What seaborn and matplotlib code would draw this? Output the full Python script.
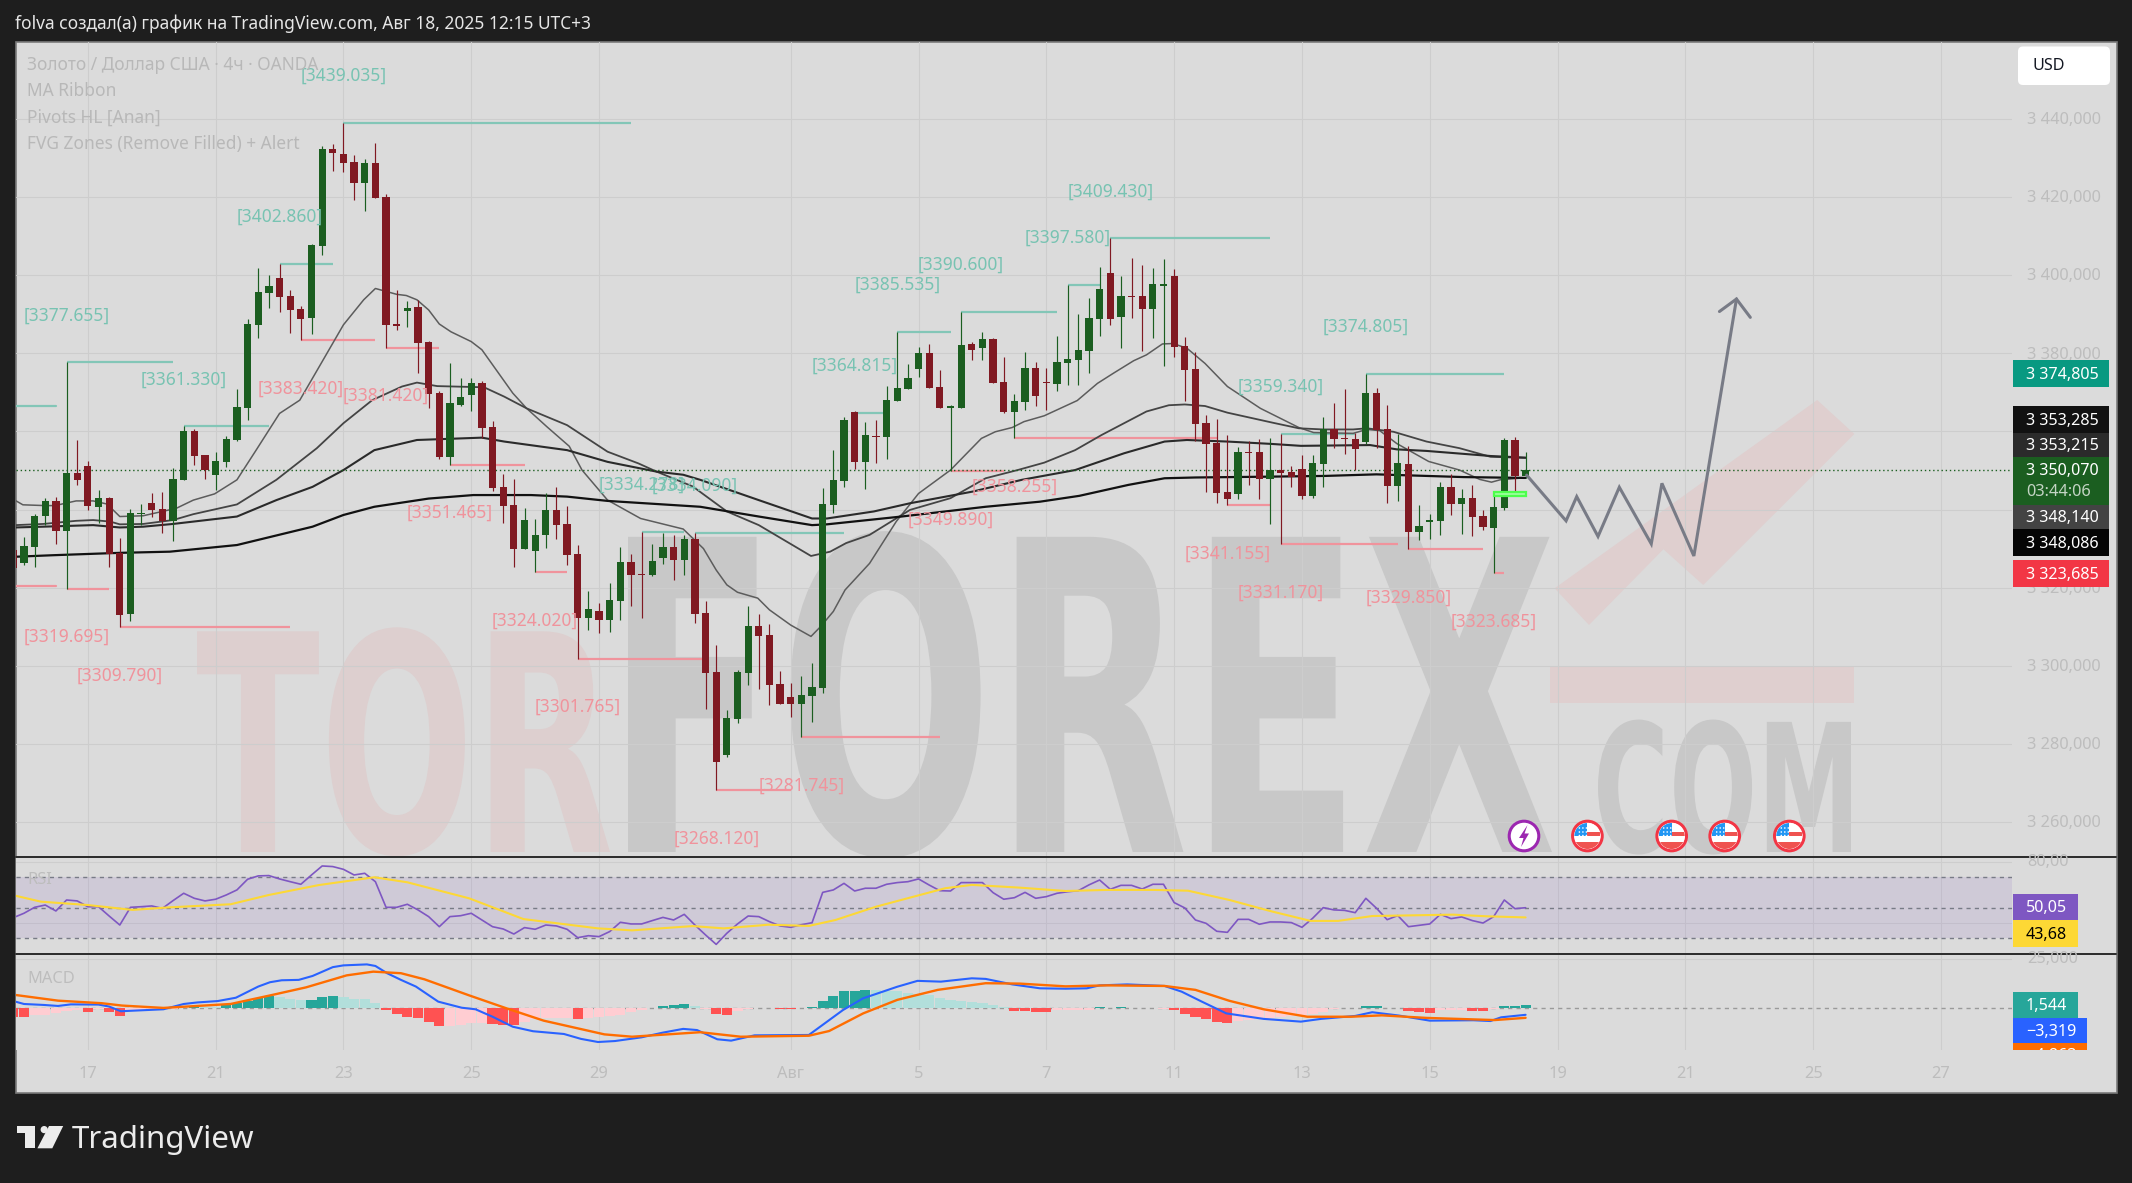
import matplotlib
matplotlib.use("Agg")
import matplotlib.pyplot as plt
import seaborn as sns
import numpy as np
from matplotlib.patches import Rectangle, Circle, Polygon, FancyBboxPatch
from matplotlib.patheffects import AbstractPathEffect
from matplotlib.textpath import TextPath
from matplotlib.font_manager import FontProperties
from matplotlib.transforms import Affine2D

# ---------- candles: one value per 4h bar ----------
opens = [3329.6,3326.2,3330.4,3338.3,3342.2,3334.6,3349.4,3351.1,3340.6,3343.0,
         3328.9,3313.2,3338.8,3341.7,3340.1,3337.1,3347.6,3360.1,3354.0,3348.9,
         3352.2,3357.8,3366.0,3387.3,3395.5,3399.3,3394.7,3391.4,3389.0,3407.5,
         3432.3,3431.0,3429.0,3423.6,3428.7,3420.0,3387.4,3390.8,3391.9,3382.9,
         3369.8,3353.5,3366.8,3369.3,3372.4,3361.1,3345.8,3341.2,3329.9,3329.4,
         3333.5,3339.9,3336.3,3328.6,3312.2,3314.0,3311.7,3316.6,3326.5,3323.5,
         3323.2,3327.6,3330.4,3327.1,3332.5,3313.5,3298.4,3277.1,3286.4,3298.1,
         3310.2,3307.9,3295.3,3292.0,3290.2,3292.3,3294.3,3341.2,3347.3,3365.0,
         3352.2,3358.9,3358.6,3367.8,3370.9,3376.0,3380.1,3371.4,3366.1,3366.0,
         3382.4,3381.4,3383.7,3372.7,3365.0,3367.5,3376.2,3372.7,3372.1,3377.5,
         3378.3,3380.6,3388.8,3400.6,3389.3,3394.7,3394.7,3391.4,3397.2,3399.8,
         3381.9,3376.0,3362.2,3357.0,3344.5,3344.0,3354.7,3354.7,3347.8,3350.1,
         3349.6,3350.4,3343.5,3351.7,3360.6,3358.3,3358.1,3357.3,3369.8,3360.6,
         3346.0,3351.6,3334.2,3336.9,3337.0,3345.8,3341.4,3343.0,3338.3,3335.3,
         3340.4,3357.8,3348.6]
highs = [3332.0,3333.0,3338.9,3342.9,3343.1,3377.9,3357.8,3352.4,3345.0,3343.3,
         3332.7,3340.1,3341.4,3344.2,3344.5,3350.5,3361.4,3360.6,3354.0,3354.7,
         3358.8,3370.9,3388.7,3401.9,3400.1,3402.9,3396.2,3392.1,3408.0,3433.1,
         3433.6,3439.0,3430.8,3429.8,3433.9,3420.8,3396.2,3393.4,3393.7,3383.2,
         3370.4,3377.5,3373.7,3373.7,3372.9,3362.7,3349.1,3347.8,3340.4,3337.6,
         3344.2,3345.8,3340.9,3330.9,3319.1,3316.0,3321.2,3330.4,3328.6,3334.3,
         3331.2,3334.0,3333.5,3333.5,3334.1,3316.6,3305.3,3288.7,3298.9,3315.3,
         3313.2,3310.7,3298.6,3295.5,3297.4,3300.7,3345.5,3355.2,3363.7,3365.2,
         3362.4,3362.9,3371.6,3385.5,3377.3,3381.6,3382.4,3375.7,3366.7,3390.6,
         3382.9,3385.5,3383.9,3379.1,3369.6,3380.3,3377.8,3376.2,3384.4,3397.6,
         3390.1,3394.2,3402.1,3409.4,3399.8,3404.4,3402.6,3401.9,3404.2,3401.6,
         3384.2,3380.3,3364.2,3363.2,3359.1,3356.0,3357.6,3358.1,3358.3,3359.3,
         3351.1,3354.0,3354.0,3363.7,3367.3,3370.9,3359.6,3374.8,3371.1,3366.8,
         3359.3,3356.3,3341.2,3338.9,3347.0,3349.1,3345.3,3346.3,3339.9,3343.5,
         3358.3,3358.6,3354.8]
lows = [3324.0,3325.8,3325.3,3336.0,3331.2,3319.7,3346.3,3339.9,3336.5,3325.3,
        3309.8,3311.5,3336.0,3338.1,3334.0,3331.9,3347.6,3351.4,3347.8,3345.0,
        3350.9,3357.5,3362.9,3383.8,3391.6,3390.6,3385.2,3383.4,3385.0,3405.2,
        3426.7,3426.4,3419.3,3416.4,3419.8,3381.4,3386.0,3386.7,3375.0,3366.0,
        3352.9,3351.5,3366.5,3365.2,3358.3,3344.7,3336.5,3325.3,3329.9,3324.0,
        3330.1,3332.4,3325.8,3301.8,3309.1,3308.4,3308.6,3311.7,3315.3,3312.2,
        3323.0,3326.0,3322.0,3323.2,3310.9,3288.9,3268.1,3276.6,3285.3,3295.1,
        3294.0,3290.0,3290.2,3286.9,3281.7,3285.6,3293.0,3339.1,3345.8,3350.4,
        3345.3,3351.9,3352.9,3367.8,3370.9,3373.9,3371.1,3366.0,3349.9,3366.0,
        3378.3,3378.3,3372.4,3364.7,3358.3,3365.5,3366.5,3365.5,3370.4,3371.9,
        3371.9,3375.0,3384.4,3387.3,3381.4,3389.0,3380.6,3383.9,3376.8,3379.1,
        3367.8,3357.6,3344.5,3341.7,3341.2,3342.7,3346.3,3342.7,3336.3,3331.2,
        3345.8,3342.7,3343.0,3345.8,3355.8,3354.2,3350.1,3356.8,3355.8,3341.7,
        3342.2,3329.9,3332.2,3332.4,3333.5,3338.6,3333.7,3333.2,3334.8,3323.7,
        3339.9,3344.7,3348.1]
closes = [3325.1,3330.7,3338.3,3342.2,3334.6,3349.4,3347.6,3340.9,3343.0,3328.6,
          3313.0,3339.1,3339.1,3339.9,3337.1,3347.8,3360.1,3353.7,3350.1,3352.4,
          3358.1,3366.3,3387.5,3395.7,3397.2,3394.4,3391.1,3388.8,3407.7,3432.3,
          3431.3,3428.7,3423.6,3428.7,3419.8,3387.3,3387.1,3391.6,3382.6,3369.6,
          3353.5,3367.3,3368.8,3372.4,3360.9,3345.5,3340.9,3329.9,3337.3,3333.5,
          3339.9,3336.0,3328.3,3312.2,3314.5,3311.7,3316.8,3326.5,3323.2,3323.2,
          3326.8,3330.4,3327.1,3332.4,3313.2,3298.1,3275.3,3286.6,3298.4,3310.2,
          3307.6,3295.1,3290.2,3290.2,3292.6,3294.6,3341.4,3347.6,3362.9,3352.2,
          3359.1,3358.6,3368.0,3371.1,3373.7,3380.1,3371.1,3366.0,3366.4,3382.1,
          3380.9,3383.7,3372.4,3365.0,3367.8,3376.2,3369.1,3372.4,3377.8,3378.5,
          3380.9,3389.0,3396.5,3388.8,3394.7,3394.4,3391.4,3397.8,3397.8,3381.6,
          3375.7,3361.9,3356.8,3344.2,3342.7,3354.7,3354.4,3347.8,3350.1,3349.4,
          3348.3,3343.5,3351.9,3360.6,3358.1,3358.0,3355.5,3369.8,3360.4,3346.0,
          3351.9,3334.2,3335.8,3337.3,3345.8,3341.4,3343.0,3338.1,3335.5,3340.6,
          3357.8,3348.6,3350.07]

# ---------- MA ribbon: (bar, price) read at the bends ----------
ma_a_bar = [0.2,0.9,3,3.9,5.9,7.5,8.8,10,12.2,15.3,16.9,18.9,21,22.8,25,26.9,28.9,31,32.9,34,36,36.9,37.9,39,40,41.1,43,44,46.9,48.2,50.1,52.2,53.4,55.8,58.9,62.9,64.8,66,67,68,69.9,71,73,74.9,75.8,77,78.1,80.4,82.9,85,88,90.9,92.2,93.8,94.9,96.8,99.9,101.8,103.3,105.2,106.4,107.9,108.9,110.2,111.9,114,117.1,120.7,122.1,125.8,127.1,128.3,129.9,132.9,135.8,137.7,138.8,139.6,142]
ma_a_val = [3342.3,3341.2,3341,3341,3342.2,3342.2,3341.4,3338.2,3338.4,3340.3,3342.4,3344,3347.6,3355.2,3364.6,3368,3377.4,3387.3,3393.7,3396.6,3395.1,3394.8,3393.7,3391.1,3387.5,3385.5,3383,3380.9,3369.8,3365.9,3361.2,3356.2,3350.1,3342.4,3337.7,3335,3330,3324.5,3320.7,3318.8,3317.3,3314.3,3310.4,3307.5,3310,3313.9,3319.4,3326.2,3336.9,3344.1,3350.1,3358.2,3359.9,3361,3362.5,3364,3367.9,3372.3,3374.9,3378.1,3379.6,3382.4,3382.5,3381.3,3377.4,3371.5,3365.9,3361,3359.7,3359.5,3360.5,3360.2,3356.9,3352.3,3350.1,3347.7,3347,3347.6,3348.14]
ma_b_bar = [0.2,2.8,5.9,7.5,9.1,10,12.2,15,16.9,21,24.7,28.5,31,33.7,36.5,37.9,39.8,44.2,46.1,48.2,52,55.8,58.7,60.4,63.8,67,70,74.9,76.7,78.2,80.4,84.2,88,91.3,94.3,96.8,99.7,102.2,106.4,108.5,110,111.9,114,118.3,120.7,123,125.8,127.1,129.6,132.7,135.8,138.7,142]
ma_b_val = [3336,3336.3,3337.1,3337.3,3336.9,3336.2,3336.3,3337.3,3338.8,3341.3,3347.6,3355.7,3362.1,3368,3371.5,3372.5,3371.6,3371.3,3368.9,3365.9,3361.6,3354.8,3351.8,3349.7,3345.9,3339.5,3336,3328.1,3329.2,3331.4,3333.5,3339.9,3342.9,3348,3350.1,3352,3355.2,3359.1,3365.1,3366.7,3366.9,3366.5,3364.8,3362.2,3360.8,3360.5,3360.5,3360.8,3359.9,3357.4,3355.7,3353.5,3353.215]
ma_c_bar = [0.2,2.8,7.5,10,12.2,15,21,24.7,28.1,31,33.9,37.9,44,46.1,52,55.8,60.4,62.9,64.5,70,75,76.4,80.8,84.2,90.1,94.7,99.7,104.3,108.1,110.2,114,118.1,120.9,127.4,129.9,132.7,138.7,142]
ma_c_val = [3335.4,3335.6,3336,3335.4,3335.6,3336.3,3338.2,3342.4,3345.8,3350.1,3355.2,3357.8,3358.4,3357.4,3355.2,3352.2,3349.7,3348.9,3347.6,3342.4,3337.7,3337.7,3339.5,3341.6,3344.6,3347.6,3350.1,3354.4,3357.4,3357.8,3357.4,3356.8,3356.3,3356.5,3355.4,3355,3353.7,3353.285]
ma_d_bar = [0.2,3.8,10,14.7,21,28.1,31,33.9,39,43.2,48.6,52,55.8,64.5,70,75,76.4,83.4,91.3,96.4,100.1,104.7,108.1,111,117.6,123.2,128,131.5,136.2,142]
ma_d_val = [3327.9,3328.3,3328.9,3329.2,3330.9,3335.6,3338.6,3340.7,3342.8,3343.7,3343.7,3343.3,3342.2,3340.7,3338.2,3336,3336.2,3338.2,3340.7,3342,3343.5,3346.3,3348,3348.2,3348.4,3348.6,3349,3348.7,3348.3,3348.086]

# ---------- pivots: label text value, first bar, last bar of the level ----------
pivot_high_val = [3439.035,3402.860,3377.655,3361.330,3409.430,3397.580,3390.600,3385.535,3364.815,3374.805,3359.340,3334.278,3334.090]
pivot_high_bar = [31,25,5,16,103,99,89,83,79,127,119,59,64]
pivot_high_end = [58,30,15,24,118,102,98,88,82,140,126,63,78]
pivot_low_val = [3383.420,3381.420,3351.465,3319.695,3309.790,3324.020,3301.765,3281.745,3268.120,3349.890,3358.255,3341.155,3331.170,3329.850,3323.685]
pivot_low_bar = [27,35,41,5,10,49,53,74,66,88,94,114,119,131,139]
pivot_low_end = [34,40,48,9,26,52,65,87,73,93,113,118,130,138,140]

# ---------- RSI ----------
rsi_vals = [43.5,46.4,50.3,51.8,47.9,55.1,54.5,50.7,50.7,44.6,38.7,50.3,50.7,51.2,49.6,54.7,59.5,56.2,54.5,55.6,
            58.4,61.7,68.7,70.9,71.1,68.9,67.1,65.4,71.5,77.4,77.0,75.2,71.5,72.6,67.1,50.3,50.3,52.3,48.6,44.2,
            37.6,44.2,44.8,46.4,42.0,37.6,36.1,32.8,37.0,35.9,38.7,38.1,35.9,30.4,31.7,31.1,34.4,40.5,39.4,39.4,
            41.6,43.7,42.0,45.7,38.7,32.2,26.0,33.3,39.4,44.6,44.2,40.9,38.1,37.2,38.9,40.2,60.1,61.7,66.0,61.0,
            62.8,62.8,65.4,66.5,67.1,68.9,64.9,61.2,61.0,66.5,66.5,66.5,59.9,55.6,56.6,60.1,56.2,57.3,59.5,60.5,
            61.2,65.0,68.2,62.1,64.7,64.7,62.3,65.4,65.4,53.4,49.9,42.0,39.8,34.6,33.9,42.4,42.4,39.2,40.7,40.7,
            40.3,37.2,43.1,50.1,48.6,48.3,46.8,56.2,49.7,42.2,44.9,37.6,38.5,39.4,45.7,42.9,44.0,41.6,40.0,44.2,
            55.1,49.4,50.05]
rsi_ma_bar = [0.2,2.6,7,11.2,14.7,20.4,24,28.7,33.9,37,42.8,47.9,54.9,58.1,63.8,66.7,70.9,74.7,77.2,81,87.5,90,94.5,98.8,102.7,107.1,110.3,114.2,118,121.8,124.4,127.6,135.2,138.4,142]
rsi_ma_val = [57.9,54,51.8,48.6,50.3,52.3,58.4,64.9,70,66.7,56.2,42.6,36.5,35.2,38,36.5,38.9,38.1,42,50.7,62.8,65,63.2,61,61.7,61.7,61.2,55.1,47.9,41.4,41.4,44.6,45.5,44.4,43.68]

# ---------- MACD ----------
macd_bar = [0.2,1,2.9,4.2,5.4,8,9,10.1,14.1,16,17.3,19.2,20.9,23,24.1,25.2,26.8,28.1,30,31,33.2,34,35.1,36.4,37.8,39.9,42.1,43.4,45,46.9,48.8,51.7,53.3,54.9,56.5,59,61,62.9,64.2,66.1,67.4,69.6,74.7,77.9,79.8,83,84.9,87.1,90,91.3,93.8,96.4,98.8,100.8,102,104.6,108.1,109.7,111.6,113.9,117.4,120.9,122.8,126,127.6,130.1,133,137.1,138.7,139.7,142]
macd_val = [3.4,2.2,1.7,1.2,2,1.9,0.9,-1.5,-0.5,2.2,3,3.7,5.4,11.1,13.3,14.3,14.5,16.5,21,21.9,22.4,21.6,17.9,14.5,11.1,3.4,0.3,-0.5,-4.3,-9.4,-11.7,-13.1,-15.6,-17.2,-16.7,-14.8,-12.4,-10.5,-11.1,-15.8,-16.5,-13.8,-13.6,-0.9,5.1,11,14,13.6,15.3,15,12.2,10.2,10,10.2,11.7,12.2,11.4,8.5,3.4,-2.6,-5.4,-6.8,-5.4,-3.9,-2,-3.7,-6.3,-6.1,-6.5,-4.6,-3.319]
signal_bar = [0.2,4.2,8.3,10.2,14.1,20.4,24.3,27.5,31.3,33.8,36.4,38.6,42.8,46.3,49.8,55.5,58.1,64.5,68.3,74.7,76.6,79.8,83,86.8,91.3,94.5,98.8,102.7,108.1,111,114.2,117.4,121.5,125.6,128.5,132.7,139.1,142]
signal_val = [6.8,3.9,2.6,1.4,0.2,2.2,6.8,10.7,16.8,18.7,17.9,14.8,6.6,0,-6.3,-13.3,-14.5,-12.2,-14.5,-14,-11.6,-2.6,4.3,9.4,12.8,12.6,11.2,11.7,11.4,9.4,3.8,-0.5,-4.3,-4.3,-3.6,-4.9,-6,-4.863]
hist_vals = [-4.2,-4.2,-3.5,-3.2,-2.5,-1.6,-1.0,-1.7,-0.6,-2.0,
             -3.7,-1.6,-1.4,-1.0,-0.6,-0.2,0.3,1.2,0.6,0.6,
             1.8,2.5,3.8,5.3,6.1,5.6,4.8,4.3,4.3,5.8,
             6.5,5.7,5.0,4.6,2.9,-0.8,-3.1,-4.3,-4.9,-6.8,
             -8.8,-8.8,-8.3,-7.7,-7.5,-7.9,-8.3,-8.6,-6.9,-5.6,
             -5.0,-5.0,-5.0,-5.4,-4.7,-4.5,-4.0,-3.2,-2.1,-1.0,
             0.3,1.2,1.9,2.3,1.2,-0.2,-2.9,-3.2,-1.2,-0.6,
             0.3,0.2,-0.3,-0.3,0.2,0.9,3.9,6.2,8.9,8.8,
             9.4,9.2,8.8,8.8,8.0,7.5,6.8,5.4,4.0,3.9,
             3.2,2.7,1.5,0.5,-1.2,-1.4,-1.7,-1.7,-0.9,-0.9,
             -0.7,-0.7,0.5,0.2,0.5,0.2,0.1,0.2,-0.2,-1.0,
             -2.7,-4.3,-5.4,-6.8,-7.3,-6.6,-6.0,-5.4,-5.0,-4.3,
             -3.7,-3.4,-2.7,-1.7,-0.3,0.2,0.2,1.2,1.2,0.4,
             0.2,-1.4,-1.7,-2.3,-1.0,-0.9,-0.9,-1.2,-1.2,-0.5,
             1.2,1.2,1.544]
hist_kind = ("RRPPPPPRPR" "RPPPPPTTtt" "TTTTTtttTT" "TttttRRRRR" "RPPPPRRRPP"
             "PPPRPPPPPP" "TTTTtPRRPP" "TtRRTTTTTT" "Tttttttttt" "ttttRRRRPP"
             "PPTtTttTPR" "RRRRRPPPPP" "PPPPPTTTTt" "tRRRPPPRRP" "TTT")

# ---------- drawing on the chart ----------
draw_bar = [142.1,145.8,146.8,148.8,150.8,153.8,154.8,157.8,161.8]
draw_val = [3348.8,3337.1,3343.3,3333.1,3345.7,3331.2,3346.7,3328.1,3393.9]
head_bar = [160.2,161.8,163.1]
head_val = [3390.7,3393.9,3389.2]

# ---------- axis labels ----------
price_ticks = [3440,3420,3400,3380,3360,3340,3320,3300,3280,3260]
price_tick_labels = ["3 440,000","3 420,000","3 400,000","3 380,000","3 360,000","3 340,000","3 320,000","3 300,000","3 280,000","3 260,000"]
date_ticks = [7,19,31,43,55,73,85,97,109,121,133,145,157,169,181]
date_labels = ["17","21","23","25","29","Авг","5","7","11","13","15","19","21","25","27"]
legend_lines = ["Золото / Доллар США · 4ч · OANDA","MA Ribbon","Pivots HL [Anan]","FVG Zones (Remove Filled) + Alert"]

W, H = 2132, 1183
BAR0, STEP = 13.3, 10.65
sns.set_theme(style="white")
plt.rcParams["font.family"] = ["Noto Sans", "DejaVu Sans"]

fig = plt.figure(figsize=(W/100, H/100), dpi=100, facecolor="#1e1e1e")

def box(x0, y0, x1, y1):
    return [x0/W, 1-y1/H, (x1-x0)/W, (y1-y0)/H]

def bar_lim(x0, x1):
    return ((x0-BAR0)/STEP, (x1-BAR0)/STEP)

def pixel_axes(z):
    a = fig.add_axes([0, 0, 1, 1], zorder=z)
    a.set_xlim(0, W); a.set_ylim(H, 0); a.axis("off"); a.patch.set_alpha(0)
    return a

class Squeeze(AbstractPathEffect):
    """Stretches a real text to a box around its anchor point."""
    def __init__(self, sx, sy, x0, y0):
        super().__init__()
        self.sx, self.sy, self.x0, self.y0 = sx, sy, x0, y0
    def draw_path(self, renderer, gc, tpath, affine, rgbFace=None):
        a = affine + Affine2D().translate(-self.x0, -self.y0).scale(self.sx, self.sy).translate(self.x0, self.y0)
        renderer.draw_path(gc, tpath, a, rgbFace)

back = pixel_axes(0)
back.add_patch(Rectangle((15.5, 41.5), 2101, 1051, fc="#dbdbdb", ec="#7a7a7a", lw=1.2))

def watermark(word, x0, x1, ytop, ybase, color):
    fp = FontProperties(family="DejaVu Sans", weight="bold")
    size = 200
    ext = TextPath((0, 0), word, size=size, prop=fp).get_extents()
    k = 100/72
    sx = (x1-x0)/(ext.width*k); sy = (ybase-ytop)/(ext.height*k)
    t = back.text(x0-ext.x0*k*sx, ybase, word, fontproperties=fp, fontsize=size, color=color,
                  ha="left", va="baseline")
    t.set_path_effects([Squeeze(sx, sy, x0-ext.x0*k*sx, H-ybase)])

watermark("TOR", 197, 610, 623, 852, "#ddcfcf")
watermark("FOREX", 628, 1552, 525, 852, "#c8c8c8")
watermark("COM", 1598, 1851, 717, 852, "#c8c8c8")
back.add_patch(Rectangle((1550, 666), 304, 37, fc="#dfcfcf", ec="none"))
back.add_patch(Polygon([(1554.6,588.3),(1817.2,400),(1854.4,434),(1703.2,585),(1663.4,549.3),(1589,625)],
                       closed=True, fc="#dfcfcf", ec="none"))

# ---------- main price panel ----------
GRID = "#cdcdcd"
ax = fig.add_axes(box(16, 42, 2012, 856), zorder=1)
ax.patch.set_alpha(0)
ax.set_xlim(*bar_lim(16, 2012))
ax.set_ylim(3380-(856-353.3)/3.905, 3380+(353.3-42)/3.905)
ax.set_xticks(date_ticks); ax.set_yticks(price_ticks)
ax.tick_params(length=0, labelbottom=False, labelleft=False)
ax.grid(True, color=GRID, lw=0.8); ax.set_axisbelow(True)
for s in ax.spines.values():
    s.set_visible(False)

x_bars = np.arange(len(closes))
ma_styles = [(ma_a_bar, ma_a_val, "#5c5c5c", 1.1), (ma_b_bar, ma_b_val, "#444444", 1.3),
             (ma_c_bar, ma_c_val, "#2a2a2a", 1.5), (ma_d_bar, ma_d_val, "#111111", 1.6)]
for bx, by, col, lw in ma_styles:
    sns.lineplot(x=bx, y=by, ax=ax, color=col, lw=lw, estimator=None, sort=False, zorder=3, legend=False)

TEAL_LN, PINK_LN = "#83c6b7", "#f0939c"
LABEL_FS = 12.5
for v, b, e in zip(pivot_high_val, pivot_high_bar, pivot_high_end):
    ax.plot([b, e], [v, v], color=TEAL_LN, lw=1.6, zorder=2, solid_capstyle="butt")
    ax.text(b, v+12.0, f"[{v:.3f}]", color="#78c3b2", fontsize=LABEL_FS, ha="center", va="center", zorder=7)
for v, b, e in zip(pivot_low_val, pivot_low_bar, pivot_low_end):
    ax.plot([b, e], [v, v], color=PINK_LN, lw=1.6, zorder=2, solid_capstyle="butt")
    ax.text(b, v-12.4, f"[{v:.3f}]", color="#f0939c", fontsize=LABEL_FS, ha="center", va="center", zorder=7)
# stubs of levels that began before the visible range
ax.plot([-2, 4], [3366.6, 3366.6], color=TEAL_LN, lw=1.6, zorder=2)
ax.plot([-2, 4], [3320.5, 3320.5], color=PINK_LN, lw=1.6, zorder=2)

GREEN, RED = "#1b5e20", "#801922"
colors = [GREEN if c >= o else RED for o, c in zip(opens, closes)]
ax.vlines(x_bars, lows, highs, colors=colors, lw=0.85, zorder=4)
ax.bar(x_bars, np.abs(np.array(closes)-np.array(opens)), bottom=np.minimum(opens, closes),
       width=0.68, color=colors, lw=0, zorder=5)

ax.axhline(closes[-1], color=GREEN, lw=1.0, ls=(0, (1, 2)), zorder=3)
ax.add_patch(Rectangle((139, 3343.5), 3, 1.1, fc="#9dff9d", ec="#4dff4d", lw=1.6, zorder=6))
ax.plot(draw_bar, draw_val, color="#787b86", lw=2.2, zorder=6, solid_joinstyle="miter")
ax.plot(head_bar, head_val, color="#787b86", lw=2.2, zorder=6, solid_joinstyle="miter")

for i, s in enumerate(legend_lines):
    ax.annotate(s, xy=(27, H-(65.5+26*i)), xycoords="figure pixels", color="#b8b8b8", fontsize=12.5,
                ha="left", va="center", zorder=8)

# ---------- RSI panel ----------
def rsi_lim():
    k = 1.525
    return (30-(954-938.3)/k, 80+(862-857)/k)

ar = fig.add_axes(box(16, 857, 2012, 954), zorder=1, facecolor="#dbdbdb")
ar.set_xlim(*bar_lim(16, 2012)); ar.set_ylim(*rsi_lim())
ar.set_xticks(date_ticks); ar.set_yticks([80, 40])
ar.tick_params(length=0, labelbottom=False, labelleft=False)
ar.grid(True, color=GRID, lw=0.8); ar.set_axisbelow(True)
for s in ar.spines.values():
    s.set_visible(False)
ar.axhspan(30, 70, color="#7e57c2", alpha=0.12, lw=0, zorder=1)
for lv in (70, 50, 30):
    ar.axhline(lv, color="#787b86", lw=1.0, ls=(0, (3, 3)), zorder=2)
sns.lineplot(x=x_bars, y=rsi_vals, ax=ar, color="#7e57c2", lw=1.2, zorder=3, legend=False)
sns.lineplot(x=rsi_ma_bar, y=rsi_ma_val, ax=ar, color="#fdd835", lw=1.5, zorder=4, estimator=None, sort=False, legend=False)
ar.set_xlabel(""); ar.set_ylabel("")

# ---------- MACD panel ----------
am = fig.add_axes(box(16, 955, 2012, 1050), zorder=1, facecolor="#dbdbdb")
am.set_xlim(*bar_lim(16, 2012))
am.set_ylim(-(1050-1008.3)/1.96, (1008.3-955)/1.96)
am.set_xticks(date_ticks); am.set_yticks([25])
am.tick_params(length=0, labelbottom=False, labelleft=False)
am.grid(True, color=GRID, lw=0.8); am.set_axisbelow(True)
for s in am.spines.values():
    s.set_visible(False)
am.axhline(0, color="#9a9a9a", lw=1.0, ls=(0, (3, 3)), zorder=1)
kind_color = {"T": "#26a69a", "t": "#b2dfdb", "P": "#ffcdd2", "R": "#ff5252"}
am.bar(x_bars, hist_vals, width=0.95, color=[kind_color[k] for k in hist_kind], lw=0, zorder=2)
sns.lineplot(x=macd_bar, y=macd_val, ax=am, color="#2962ff", lw=1.5, zorder=3, estimator=None, sort=False, legend=False)
sns.lineplot(x=signal_bar, y=signal_val, ax=am, color="#ff6d00", lw=1.7, zorder=4, estimator=None, sort=False, legend=False)
am.set_xlabel(""); am.set_ylabel("")
ax.set_xlabel(""); ax.set_ylabel("")

# ---------- furniture above the panels ----------
fg = pixel_axes(5)
AX_GREY = "#bdbdbd"
TICK_FS = 11.8
DY = 1.2
for p, s in zip(price_ticks, price_tick_labels):
    fg.text(2027, 353.3+(3380-p)*3.905+DY, s, color=AX_GREY, fontsize=TICK_FS, ha="left", va="center")
fg.text(2027, 862, "80,00", color=AX_GREY, fontsize=TICK_FS, ha="left", va="center")
fg.text(2027, 959, "25,000", color=AX_GREY, fontsize=TICK_FS, ha="left", va="center")
for b, s in zip(date_ticks, date_labels):
    fg.text(BAR0+STEP*b, 1072.5+DY, s, color=AX_GREY, fontsize=TICK_FS, ha="center", va="center")
fg.text(27, 880, "RSI", color=AX_GREY, fontsize=TICK_FS, ha="left", va="center")
fg.text(27, 979, "MACD", color=AX_GREY, fontsize=TICK_FS, ha="left", va="center")

fg.plot([16, 2116], [856.5, 856.5], color="#2a2a2a", lw=1.4)
fg.plot([16, 2116], [954.3, 954.3], color="#2a2a2a", lw=1.4)

TAG_FS = 11.6
def tag(y0, y1, col, txt, tc="white", x1=2109):
    fg.add_patch(Rectangle((2013, y0), x1-2013, y1-y0, fc=col, ec="none", zorder=3))
    fg.text(2026, (y0+y1)/2+DY, txt, color=tc, fontsize=TAG_FS, weight="bold", ha="left", va="center", zorder=4)

tag(360, 386.7, "#089981", "3 374,805")
tag(406, 433, "#111111", "3 353,285")
tag(433, 457, "#2b2b2b", "3 353,215")
fg.add_patch(Rectangle((2013, 457), 96, 47.5, fc="#1b5e20", ec="none", zorder=3))
fg.text(2026, 470.5, "3 350,070", color="white", fontsize=TAG_FS, weight="bold", ha="left", va="center", zorder=4)
fg.text(2026, 491.5, "03:44:06", color="#c4d4c4", fontsize=TICK_FS, ha="left", va="center", zorder=4)
tag(504.5, 529, "#434343", "3 348,140")
tag(529, 556, "#050505", "3 348,086")
tag(560, 586.7, "#f23645", "3 323,685")
tag(894, 920, "#7e57c2", "50,05", x1=2077.6)
tag(920, 947, "#fdd835", "43,68", tc="black", x1=2077.6)
tag(992, 1018, "#26a69a", "1,544", x1=2077.6)
tag(1018, 1043, "#2962ff", "−3,319", x1=2087)
clip_rect = Rectangle((2013, 1043), 74, 7, fc="#ff6d00", ec="none", zorder=3)
fg.add_patch(clip_rect)
t = fg.text(2026, 1055.5, "−4,863", color="white", fontsize=TAG_FS, weight="bold", ha="left", va="center", zorder=4)
t.set_clip_path(clip_rect)
t.set_clip_on(True)

fg.add_patch(FancyBboxPatch((2022, 50.5), 84, 30.5, boxstyle="round,pad=4,rounding_size=5", fc="white", ec="none", zorder=3))
fg.text(2032, 66, "USD", color="#131722", fontsize=11.6, ha="left", va="center", zorder=4)

# event markers
def flag(cx, cy):
    ring = Circle((cx, cy), 14.8, fc="white", ec="#f23645", lw=2.2, zorder=3)
    fg.add_patch(ring)
    inner = Circle((cx, cy), 13, fc="white", ec="none", zorder=3)
    fg.add_patch(inner)
    for (x, y, w, h, col) in [(-13, -13, 13, 13, "#2196f3"), (0, -4, 13, 4, "#ef5350"), (-13, 6, 26, 8, "#ef5350")]:
        r = Rectangle((cx+x, cy+y), w, h, fc=col, ec="none", zorder=4)
        fg.add_patch(r); r.set_clip_path(inner)
    for dx in (-8, -4.5, -1):
        for dy in (-8, -4, -0.5):
            fg.add_patch(Circle((cx+dx, cy+dy), 0.8, fc="white", ec="none", zorder=5))

cx, cy = 1524, 836
fg.add_patch(Circle((cx, cy), 14.8, fc="white", ec="#9c27b0", lw=2.2, zorder=3))
fg.add_patch(Polygon([(cx+3.5, cy-11), (cx-5, cy+2), (cx-0.5, cy+2), (cx-3, cy+11), (cx+5, cy-2.5), (cx+0.5, cy-2.5)],
                     closed=True, fc="#9c27b0", ec="none", zorder=4))
for fx in (1587.4, 1671.7, 1724.7, 1789.3):
    flag(fx, 836)

# header and footer
fg.text(15, 24, "folva создал(а) график на TradingView.com, Авг 18, 2025 12:15 UTC+3", color="#e6e6e6",
        fontsize=12.5, ha="left", va="center")
fg.text(72, 1140, "TradingView", color="#ececec", fontsize=22.5, weight="bold", ha="left", va="center")
fg.add_patch(Polygon([(17, 1126), (35.3, 1126), (35.3, 1148.3), (25.2, 1148.3), (25.2, 1132.7), (17, 1132.7)],
                     closed=True, fc="#ececec", ec="none"))
fg.add_patch(Circle((44.2, 1129.6), 3.6, fc="#ececec", ec="none"))
fg.add_patch(Polygon([(49, 1126), (63.2, 1126), (52.3, 1148.3), (37.4, 1148.3)], closed=True, fc="#ececec", ec="none"))

fig.savefig("out.png", dpi=100, facecolor=fig.get_facecolor())
